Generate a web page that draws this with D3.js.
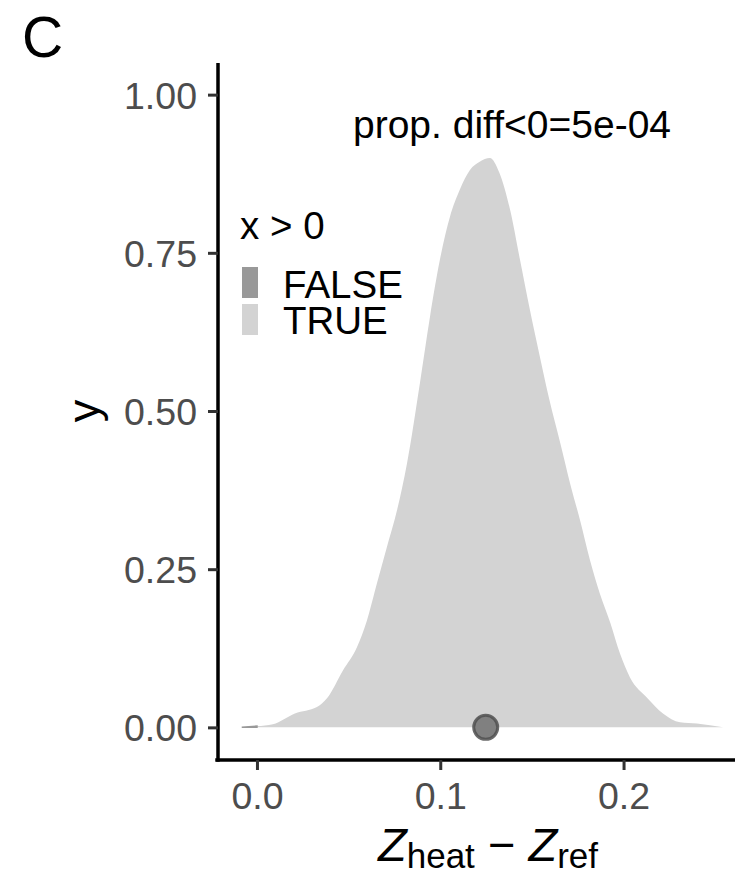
<!DOCTYPE html>
<html>
<head>
<meta charset="utf-8">
<script src="https://cdn.jsdelivr.net/npm/d3@7"></script>
<style>
  body { margin: 0; background: #fff; }
  svg { display: block; font-family: "Liberation Sans", Arial, Helvetica, sans-serif; }
</style>
</head>
<body>
<div id="container"></div>
<script>
// density of the difference
const densX = [-0.0083, 0.0, 0.0087, 0.0207, 0.0327, 0.0382, 0.0469, 0.0546, 0.060, 0.0655, 0.0709, 0.0764, 0.0819, 0.0889, 0.0944, 0.0998, 0.1053, 0.1107, 0.1162, 0.1215, 0.1271, 0.1322, 0.1381, 0.1435, 0.1489, 0.1544, 0.1596, 0.1655, 0.1708, 0.1762, 0.1817, 0.187, 0.1928, 0.198, 0.2035, 0.2128, 0.2215, 0.2308, 0.24, 0.2543];
const densY = [0.0, 0.002, 0.005, 0.022, 0.032, 0.046, 0.09, 0.127, 0.169, 0.228, 0.285, 0.343, 0.418, 0.544, 0.649, 0.739, 0.807, 0.85, 0.881, 0.894, 0.9, 0.877, 0.818, 0.739, 0.66, 0.585, 0.517, 0.449, 0.386, 0.328, 0.264, 0.212, 0.165, 0.117, 0.079, 0.047, 0.022, 0.008, 0.006, 0.0];
const pointX = [0.1248];
const pointY = [0];
const legendLabels = ["FALSE", "TRUE"];
const yTicks = [0, 0.25, 0.5, 0.75, 1];
const xTicks = [0, 0.1, 0.2];
const annotation = "prop. diff<0=5e-04";

const W = 735, H = 876;
const colors = { FALSE: "#999999", TRUE: "#d3d3d3" };

const svg = d3.select("#container").append("svg")
  .attr("width", W)
  .attr("height", H);

const x = d3.scaleLinear().domain([-0.0218, 0.2608]).range([217, 735]);
const y = d3.scaleLinear().domain([-0.05, 1.05]).range([759, 63]);

const pts = densX.map((d, i) => ({ x: d, y: densY[i] }));
const area = d3.area()
  .curve(d3.curveMonotoneX)
  .x(d => x(d.x))
  .y0(y(0))
  .y1(d => y(d.y));

// split at zero into the two fill groups
svg.append("path")
  .datum(pts.filter(d => d.x >= 0))
  .attr("d", area)
  .attr("fill", colors.TRUE);
svg.append("path")
  .datum(pts.filter(d => d.x <= 0))
  .attr("d", area)
  .attr("fill", colors.FALSE)
  .attr("stroke", colors.FALSE)
  .attr("stroke-width", 1.5);

// median point
svg.selectAll("circle.pt")
  .data(pointX.map((d, i) => ({ x: d, y: pointY[i] })))
  .enter()
  .append("circle")
  .attr("class", "pt")
  .attr("cx", d => x(d.x))
  .attr("cy", d => y(d.y))
  .attr("r", 12)
  .attr("fill", "#808080")
  .attr("stroke", "#505050")
  .attr("stroke-opacity", 0.85)
  .attr("stroke-width", 3);

// axes
const yAxis = svg.append("g")
  .attr("transform", `translate(${x.range()[0] + 1},0)`)
  .call(d3.axisLeft(y).tickValues(yTicks).tickFormat(d3.format(".2f")).tickSize(10).tickPadding(11));
const xAxis = svg.append("g")
  .attr("transform", `translate(0,${y.range()[0] + 1})`)
  .call(d3.axisBottom(x).tickValues(xTicks).tickFormat(d3.format(".1f")).tickSize(10).tickPadding(12));

[yAxis, xAxis].forEach(g => {
  g.select(".domain").attr("stroke", "#000").attr("stroke-width", 3.5)
    .attr("d", g === yAxis ? `M0,${y.range()[1]}V${y.range()[0] + 2.75}` : `M${x.range()[0] - 1.75},0H${x.range()[1]}`);
  g.selectAll(".tick line").attr("stroke", "#333").attr("stroke-width", 3);
  g.selectAll(".tick text")
    .attr("fill", "#4d4d4d")
    .style("font-size", "37.5px")
    .style("font-family", "Liberation Sans, Arial, sans-serif");
});
xAxis.selectAll(".tick text").attr("dy", "0.72em");
yAxis.selectAll(".tick text").attr("dy", "0.36em");

// axis titles
svg.append("text")
  .attr("transform", "translate(99,411) rotate(-90)")
  .attr("text-anchor", "middle")
  .style("font-size", "45px")
  .text("y");

const xt = svg.append("text")
  .attr("x", 488)
  .attr("y", 861)
  .attr("text-anchor", "middle")
  .style("font-size", "47px");
xt.append("tspan").attr("font-style", "italic").text("Z");
xt.append("tspan").attr("dy", 7).style("font-size", "35px").text("heat");
xt.append("tspan").attr("dy", -7).text(" \u2212 ");
xt.append("tspan").attr("font-style", "italic").text("Z");
xt.append("tspan").attr("dy", 7).style("font-size", "35px").text("ref");

// annotation and panel tag
svg.append("text")
  .attr("x", 512)
  .attr("y", 138)
  .attr("text-anchor", "middle")
  .style("font-size", "39px")
  .text(annotation);

svg.append("text")
  .attr("x", 22)
  .attr("y", 57)
  .style("font-size", "57px")
  .text("C");

// legend
const legend = svg.append("g").attr("transform", "translate(240,0)");
legend.append("text")
  .attr("x", 0)
  .attr("y", 239)
  .style("font-size", "38.5px")
  .text("x > 0");
legend.selectAll("rect")
  .data(legendLabels)
  .enter()
  .append("rect")
  .attr("x", 2)
  .attr("y", (d, i) => 267 + i * 37)
  .attr("width", 16)
  .attr("height", 31)
  .attr("fill", d => colors[d]);
legend.selectAll("text.lab")
  .data(legendLabels)
  .enter()
  .append("text")
  .attr("class", "lab")
  .attr("x", 43)
  .attr("y", (d, i) => 298 + i * 36)
  .style("font-size", "38.5px")
  .text(d => d);
</script>
</body>
</html>
